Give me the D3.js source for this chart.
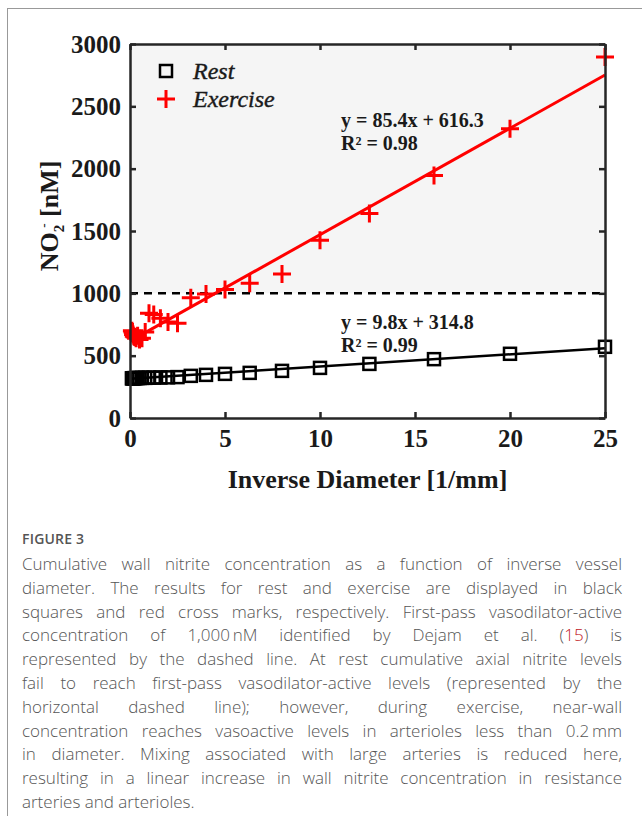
<!DOCTYPE html>
<html>
<head>
<meta charset="utf-8">
<script src="https://cdn.jsdelivr.net/npm/d3@7"></script>
<style>
  body { margin: 0; background: #fff; width: 642px; height: 816px; overflow: hidden; position: relative; }
  #frame { position: absolute; left: 7px; top: 8px; width: 700px; height: 900px; border-left: 1px solid #999; border-top: 1px solid #999; }
  #chart { position: absolute; left: 0; top: 0; }
  #caption { position: absolute; left: 22px; top: 526px; width: 600px; font-family: "Open Sans", sans-serif; color: #555; }
  #caption .fig { font-size: 14px; font-weight: 600; letter-spacing: 0.2px; line-height: 26px; }
  #caption .ln { font-size: 17px; font-weight: 300; line-height: 23.8px; text-align: justify; text-align-last: justify; white-space: nowrap; }
  #caption .ln.last { text-align-last: left; }
  #caption .ref { color: #c0141c; }
</style>
</head>
<body>
<div id="frame"></div>
<svg id="chart" width="642" height="520"></svg>
<div id="caption"></div>
<script>
// data
const invDiameter = [0.1, 0.13, 0.16, 0.2, 0.25, 0.32, 0.4, 0.5, 0.63, 0.8, 1.0, 1.25, 1.6, 2.0, 2.5, 3.2, 4, 5, 6.3, 8, 10, 12.6, 16, 20, 25]
const restValues = [318, 318, 319, 319, 320, 320, 321, 321, 322, 322, 323, 324, 325, 326, 328, 338, 346, 354, 362, 378, 402, 434, 472, 515, 571]
const exerciseValues = [700, 690, 670, 655, 650, 640, 660, 630, 640, 690, 840, 830, 800, 770, 760, 965, 995, 1030, 1080, 1155, 1425, 1640, 1945, 2320, 2895]
const xTicks = [0, 5, 10, 15, 20, 25]
const yTicks = [0, 500, 1000, 1500, 2000, 2500, 3000]
const fits = [
  {name: "Exercise", slope: 85.4, intercept: 616.3, r2: "0.98", color: "#ff0000"},
  {name: "Rest", slope: 9.8, intercept: 314.8, r2: "0.99", color: "#000000"}
]
const threshold = 1000

const captionLines = [
  "Cumulative wall nitrite concentration as a function of inverse vessel",
  "diameter. The results for rest and exercise are displayed in black",
  "squares and red cross marks, respectively. First-pass vasodilator-active",
  "concentration of 1,000\u2009nM identified by Dejam et al. (<span class=\"ref\">15</span>) is",
  "represented by the dashed line. At rest cumulative axial nitrite levels",
  "fail to reach first-pass vasodilator-active levels (represented by the",
  "horizontal dashed line); however, during exercise, near-wall",
  "concentration reaches vasoactive levels in arterioles less than 0.2\u2009mm",
  "in diameter. Mixing associated with large arteries is reduced here,",
  "resulting in a linear increase in wall nitrite concentration in resistance",
  "arteries and arterioles."
]

const margin = {left: 130, top: 44}
const w = 475, h = 374
const serif = "'Liberation Serif', 'Times New Roman', serif"

const svg = d3.select("#chart")
const bounds = svg.append("g").attr("transform", `translate(${margin.left},${margin.top})`)

const x = d3.scaleLinear().domain([0, 25]).range([0, w])
const y = d3.scaleLinear().domain([0, 3000]).range([h, 0])

// shaded region above the vasoactive threshold
bounds.append("rect")
    .attr("x", 0).attr("y", y(3000))
    .attr("width", w).attr("height", y(threshold) - y(3000))
    .attr("fill", "#f5f5f5")

// dashed threshold line
bounds.append("line")
    .attr("x1", 0).attr("x2", w)
    .attr("y1", y(threshold)).attr("y2", y(threshold))
    .attr("stroke", "#000").attr("stroke-width", 2.5)
    .attr("stroke-dasharray", "8,6")

// fit lines
bounds.selectAll(".fit")
  .data(fits)
  .join("line")
    .attr("class", "fit")
    .attr("x1", x(0)).attr("x2", x(25))
    .attr("y1", d => y(d.intercept))
    .attr("y2", d => y(d.intercept + d.slope * 25))
    .attr("stroke", d => d.color)
    .attr("stroke-width", d => d.name === "Rest" ? 2.5 : 3)

// rest squares
const sq = 12
bounds.append("g").selectAll("rect")
  .data(invDiameter)
  .join("rect")
    .attr("x", (d) => x(d) - sq / 2)
    .attr("y", (d, i) => y(restValues[i]) - sq / 2)
    .attr("width", sq).attr("height", sq)
    .attr("fill", "none")
    .attr("stroke", "#000")
    .attr("stroke-width", 2.5)

// exercise crosses
const cr = 9
bounds.append("g").selectAll("path")
  .data(invDiameter)
  .join("path")
    .attr("d", (d, i) => {
      const cx = x(d), cy = y(exerciseValues[i])
      return `M${cx - cr},${cy}H${cx + cr}M${cx},${cy - cr}V${cy + cr}`
    })
    .attr("stroke", "#ff0000")
    .attr("stroke-width", 3)

// axes (MATLAB-style box with inward ticks)
const axisStyle = g => {
  g.select(".domain").attr("stroke", "#262626").attr("stroke-width", 2.5)
  g.selectAll(".tick line").attr("stroke", "#262626").attr("stroke-width", 2.5)
  g.selectAll(".tick text")
    .attr("fill", "#1a1a1a")
    .style("font-family", serif)
    .style("font-weight", "bold")
    .style("font-size", "25px")
}
bounds.append("g")
    .attr("transform", `translate(0,${h})`)
    .call(d3.axisBottom(x).tickValues(xTicks).tickSize(-6).tickSizeOuter(0).tickPadding(11))
    .call(axisStyle)
bounds.append("g")
    .call(d3.axisTop(x).tickValues(xTicks).tickSize(-6).tickSizeOuter(0).tickFormat(""))
    .call(axisStyle)
bounds.append("g")
    .call(d3.axisLeft(y).tickValues(yTicks).tickSize(-6).tickSizeOuter(0).tickPadding(9).tickFormat(d3.format("d")))
    .call(axisStyle)
bounds.append("g")
    .attr("transform", `translate(${w},0)`)
    .call(d3.axisRight(y).tickValues(yTicks).tickSize(-6).tickSizeOuter(0).tickFormat(""))
    .call(axisStyle)

// axis labels
bounds.append("text")
    .attr("x", w / 2).attr("y", h + 70)
    .attr("text-anchor", "middle")
    .style("font-family", serif).style("font-weight", "bold").style("font-size", "26px")
    .attr("fill", "#1a1a1a")
    .text("Inverse Diameter [1/mm]")

const yl = bounds.append("text")
    .attr("transform", `translate(-72,${h / 2 - 15}) rotate(-90)`)
    .attr("text-anchor", "middle")
    .style("font-family", serif).style("font-weight", "bold").style("font-size", "26px")
    .attr("fill", "#1a1a1a")
yl.append("tspan").text("NO")
yl.append("tspan").attr("dy", 6).style("font-size", "15px").text("2")
yl.append("tspan").attr("dy", -16).attr("dx", -3).style("font-size", "13px").text("-")
yl.append("tspan").attr("dy", 10).text(" [nM]")

// legend
const legend = bounds.append("g").attr("transform", "translate(36,27)")
legend.append("rect")
    .attr("x", -6).attr("y", -6).attr("width", sq).attr("height", sq)
    .attr("fill", "none").attr("stroke", "#000").attr("stroke-width", 2.5)
legend.append("path")
    .attr("d", `M${-cr},28H${cr}M0,${28 - cr}V${28 + cr}`)
    .attr("stroke", "#ff0000").attr("stroke-width", 3)
legend.selectAll("text")
  .data(["Rest", "Exercise"])
  .join("text")
    .attr("x", 27).attr("y", (d, i) => 8 + i * 28)
    .style("font-family", serif).style("font-style", "italic").style("font-size", "24px")
    .style("stroke", "#1a1a1a").style("stroke-width", 0.4)
    .attr("fill", "#1a1a1a")
    .text(d => d)

// fit equations
const eqPos = [{x: 211, y: 83}, {x: 211, y: 285}]
fits.forEach((f, i) => {
  const t = bounds.append("text")
      .attr("x", eqPos[i].x).attr("y", eqPos[i].y)
      .style("font-family", serif).style("font-weight", "bold").style("font-size", "20px")
      .attr("fill", "#1a1a1a")
  t.append("tspan").text(`y = ${f.slope}x + ${f.intercept}`)
  t.append("tspan").attr("x", eqPos[i].x).attr("dy", 23).text(`R\u00b2 = ${f.r2}`)
})

// caption
const cap = d3.select("#caption")
cap.append("div").attr("class", "fig").text("FIGURE 3")
cap.selectAll(".ln")
  .data(captionLines)
  .join("div")
    .attr("class", (d, i) => i === captionLines.length - 1 ? "ln last" : "ln")
    .html(d => d)
</script>
</body>
</html>
